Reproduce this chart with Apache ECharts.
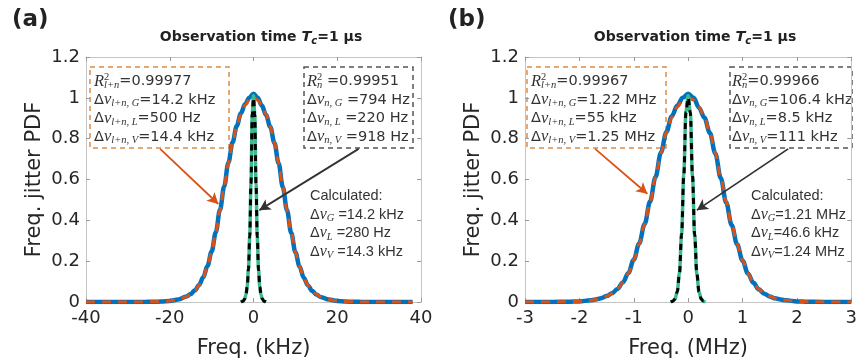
<!DOCTYPE html>
<html><head><meta charset="utf-8">
<script src="https://cdn.jsdelivr.net/npm/echarts@6/dist/echarts.min.js"></script>
<style>html,body{margin:0;padding:0;background:#fff}#c{width:860px;height:364px}</style>
</head><body><div id="c"></div>
<script>
// ---------- Panel (a): frequency in kHz ----------
const aXTicks = [-40, -20, 0, 20, 40];
const aBroadX = [-40,-36,-32,-28,-26,-24,-22,-20,-18,-16,-15,-14,-13,-12,-11,-10,-9,-8,-7,-6,-5,-4,-3,-2,-1,0,1,2,3,4,5,6,7,8,9,10,11,12,13,14,15,16,18,20,22,24,26,28,32,36,38];
const aBroadMeas = [0,0,0,0.0003,0.0006,0.001,0.002,0.005,0.012,0.027,0.039,0.057,0.083,0.121,0.176,0.247,0.342,0.452,0.566,0.682,0.782,0.862,0.925,0.97,1.0,1.02,1.0,0.962,0.916,0.858,0.779,0.679,0.563,0.449,0.339,0.244,0.174,0.119,0.081,0.055,0.037,0.025,0.012,0.005,0.002,0.001,0.0005,0.0002,0,0,0];
const aBroadFit  = [0,0,0,0.0002,0.0005,0.001,0.002,0.005,0.012,0.026,0.038,0.056,0.082,0.12,0.175,0.245,0.34,0.45,0.565,0.68,0.78,0.86,0.92,0.965,0.99,1.0,0.99,0.965,0.92,0.86,0.78,0.68,0.565,0.45,0.34,0.245,0.175,0.12,0.082,0.056,0.038,0.026,0.012,0.005,0.002,0.001,0.0005,0.0002,0,0,0];
const aNarrowX = [-3,-2.5,-2.1,-1.8,-1.5,-1.2,-0.9,-0.6,-0.3,0,0.3,0.6,0.9,1.2,1.5,1.8,2.1,2.5,3];
const aNarrowMeas = [0,0.004,0.016,0.036,0.077,0.162,0.322,0.585,0.925,1.01,0.918,0.578,0.318,0.158,0.074,0.034,0.015,0.004,0];
const aNarrowFit  = [0,0.004,0.015,0.035,0.075,0.16,0.32,0.58,0.92,1.0,0.92,0.58,0.32,0.16,0.075,0.035,0.015,0.004,0];

// ---------- Panel (b): frequency in MHz ----------
const bXTicks = [-3, -2, -1, 0, 1, 2, 3];
const bBroadX = [-3,-2.5,-2.2,-2,-1.8,-1.7,-1.6,-1.5,-1.4,-1.3,-1.2,-1.1,-1,-0.9,-0.8,-0.7,-0.6,-0.5,-0.4,-0.3,-0.2,-0.1,0,0.1,0.2,0.3,0.4,0.5,0.6,0.7,0.8,0.9,1,1.1,1.2,1.3,1.4,1.5,1.6,1.7,1.8,2,2.2,2.5,3];
const bBroadMeas = [0,0.0003,0.0012,0.003,0.008,0.012,0.018,0.029,0.043,0.064,0.096,0.142,0.207,0.287,0.382,0.492,0.612,0.732,0.833,0.91,0.962,1.0,1.02,1.0,0.952,0.902,0.828,0.727,0.607,0.487,0.377,0.283,0.203,0.139,0.094,0.062,0.041,0.027,0.018,0.012,0.008,0.003,0.0012,0.0003,0];
const bBroadFit  = [0,0.0003,0.0012,0.003,0.008,0.012,0.018,0.028,0.042,0.063,0.095,0.14,0.205,0.285,0.38,0.49,0.61,0.73,0.83,0.905,0.955,0.99,1.0,0.99,0.955,0.905,0.83,0.73,0.61,0.49,0.38,0.285,0.205,0.14,0.095,0.063,0.042,0.028,0.018,0.012,0.008,0.003,0.0012,0.0003,0];
const bNarrowX = [-0.32,-0.28,-0.24,-0.2,-0.16,-0.12,-0.08,-0.04,0,0.04,0.08,0.12,0.16,0.2,0.24,0.28,0.32];
const bNarrowMeas = [0,0.004,0.016,0.052,0.142,0.335,0.625,0.935,1.01,0.928,0.615,0.325,0.138,0.05,0.015,0.003,0];
const bNarrowFit  = [0,0.004,0.015,0.05,0.14,0.33,0.62,0.93,1.0,0.93,0.62,0.33,0.14,0.05,0.015,0.004,0];

const yTicks = [0, 0.2, 0.4, 0.6, 0.8, 1, 1.2];

// arrows (data coordinates: [from], [to])
const aArrowOrange = [[-22.3, 0.75], [-8.4, 0.48]];
const aArrowGrey   = [[25.1, 0.75], [1.4, 0.45]];
const bArrowOrange = [[-1.71, 0.75], [-0.75, 0.53]];
const bArrowGrey   = [[1.84, 0.75], [0.16, 0.45]];

const FONT = 'DejaVu Sans, Verdana, sans-serif';
const ARIAL = 'Liberation Sans, Arial, sans-serif';
const SERIF = 'Liberation Serif, DejaVu Serif, serif';
const TXT = '#262626';
const C_BLUE = '#0072BD', C_ORANGE = '#D95319', C_GREEN = '#3BBA8E', C_BLACK = '#000000';

const chart = echarts.init(document.getElementById('c'), null, {renderer: 'canvas'});

function pairs(xs, ys) { return xs.map((x, i) => [x, ys[i]]); }

function xAxes(grid, ticks, name) {
  const base = {
    gridIndex: grid, type: 'value',
    min: ticks[0], max: ticks[ticks.length - 1], interval: ticks[1] - ticks[0],
    axisLine: {onZero: false, lineStyle: {color: '#c4c4c4', width: 1}},
    axisTick: {inside: true, length: 4, lineStyle: {color: '#9a9a9a'}},
    splitLine: {show: false}
  };
  return [
    Object.assign({}, base, {
      position: 'bottom',
      axisLabel: {fontSize: 18, fontFamily: FONT, color: TXT, margin: 7},
      name: name, nameLocation: 'middle', nameGap: 36,
      nameTextStyle: {fontSize: 21, fontFamily: FONT, color: TXT}
    }),
    Object.assign({}, base, {position: 'top', axisLabel: {show: false}})
  ];
}
function yAxes(grid) {
  const base = {
    gridIndex: grid, type: 'value',
    min: yTicks[0], max: yTicks[yTicks.length - 1], interval: yTicks[1] - yTicks[0],
    axisLine: {show: true, onZero: false, lineStyle: {color: '#c4c4c4', width: 1}},
    axisTick: {show: true, inside: true, length: 4, lineStyle: {color: '#9a9a9a'}},
    splitLine: {show: false}
  };
  return [
    Object.assign({}, base, {
      position: 'left',
      axisLabel: {fontSize: 18, fontFamily: FONT, color: TXT, margin: 6},
      name: 'Freq. jitter PDF', nameLocation: 'middle', nameGap: 41, nameRotate: 90,
      nameTextStyle: {fontSize: 21, fontFamily: FONT, color: TXT}
    }),
    Object.assign({}, base, {position: 'right', axisLabel: {show: false}})
  ];
}

function arrowLine(arr, color) {
  return {
    silent: true, symbol: ['none', 'arrow'], symbolSize: [9, 11],
    label: {show: false},
    lineStyle: {color: color, width: 1.8, type: 'solid'},
    data: [[{coord: arr[0]}, {coord: arr[1]}]]
  };
}

function lineSeries(xi, yi, data, color, width, dash, z, markLine) {
  const s = {
    type: 'line', xAxisIndex: xi, yAxisIndex: yi, data: data,
    showSymbol: false, symbol: 'none', smooth: 0.35, smoothMonotone: 'x',
    lineStyle: {color: color, width: width, type: dash || 'solid'},
    z: z, silent: true
  };
  if (markLine) s.markLine = markLine;
  return s;
}

function makeRich(size, mathSize, subSize, family) {
  return {
    n: {font: size + 'px ' + family, fill: '#333', lineHeight: 18.5, verticalAlign: 'middle'},
    d: {font: size + 'px ' + family, fill: '#333', lineHeight: 18.5, verticalAlign: 'middle'},
    m: {font: 'italic ' + mathSize + 'px ' + SERIF, fill: '#333', lineHeight: 18.5, verticalAlign: 'middle'},
    s: {font: 'italic ' + subSize + 'px ' + SERIF, fill: '#333', lineHeight: 7, verticalAlign: 'bottom'},
    p: {font: subSize + 'px ' + SERIF, fill: '#333', lineHeight: 9, verticalAlign: 'top', width: 0}
  };
}
const richBox = makeRich(14.5, 16.5, 10.5, FONT);
const richCalc = makeRich(14.5, 16, 10.5, ARIAL);

function richText(x, y, lines, rich) {
  return {type: 'text', x: x, y: y, silent: true,
    style: {text: lines.join('\n'), rich: rich, align: 'left', verticalAlign: 'top', fill: '#333'}};
}
function box(x, y, w, h, color) {
  return {type: 'rect', silent: true, shape: {x: x, y: y, width: w, height: h},
    style: {fill: 'none', stroke: color, lineWidth: 1.5, lineDash: [5, 4]}};
}
const titleRich = {
  b: {font: 'bold 14px ' + FONT, fill: '#222', lineHeight: 18, verticalAlign: 'middle'},
  bi: {font: 'italic bold 14.5px ' + FONT, fill: '#222', lineHeight: 18, verticalAlign: 'middle'},
  bs: {font: 'italic bold 10px ' + FONT, fill: '#222', lineHeight: 7, verticalAlign: 'bottom'}
};
function title(cx) {
  return {type: 'text', x: cx, y: 37, silent: true,
    style: {text: '{b|Observation time }{bi|T}{bs|c}{b|=1 µs}', rich: titleRich, align: 'center', verticalAlign: 'middle'}};
}
function panelLabel(x, t) {
  return {type: 'text', x: x, y: 20, silent: true,
    style: {text: t, font: 'bold 23px ' + FONT, fill: '#222', align: 'left', verticalAlign: 'middle'}};
}

const option = {
  animation: false,
  backgroundColor: '#fff',
  grid: [
    {left: 86, top: 57, width: 335, height: 245},
    {left: 525, top: 57, width: 330, height: 245}
  ],
  xAxis: xAxes(0, aXTicks, 'Freq. (kHz)').concat(xAxes(1, bXTicks, 'Freq. (MHz)')),
  yAxis: yAxes(0).concat(yAxes(1)),
  series: [
    lineSeries(0, 0, pairs(aBroadX, aBroadMeas), C_BLUE, 4.5, null, 2),
    lineSeries(0, 0, pairs(aBroadX, aBroadFit), C_ORANGE, 3, [9, 7], 3, arrowLine(aArrowOrange, C_ORANGE)),
    lineSeries(0, 0, pairs(aNarrowX, aNarrowMeas), C_GREEN, 3.5, null, 4),
    lineSeries(0, 0, pairs(aNarrowX, aNarrowFit), C_BLACK, 3, [6, 5], 5, arrowLine(aArrowGrey, '#333')),
    lineSeries(2, 2, pairs(bBroadX, bBroadMeas), C_BLUE, 4.5, null, 2),
    lineSeries(2, 2, pairs(bBroadX, bBroadFit), C_ORANGE, 3, [9, 7], 3, arrowLine(bArrowOrange, C_ORANGE)),
    lineSeries(2, 2, pairs(bNarrowX, bNarrowMeas), C_GREEN, 3.5, null, 4),
    lineSeries(2, 2, pairs(bNarrowX, bNarrowFit), C_BLACK, 3, [6, 5], 5, arrowLine(bArrowGrey, '#333'))
  ],
  graphic: [
    panelLabel(12, '(a)'), panelLabel(448, '(b)'),
    title(261), title(695),
    box(90, 67, 139, 81, '#E08A45'),
    box(304, 67, 109, 81, '#555'),
    box(527, 67, 139, 81, '#E08A45'),
    box(730, 67, 122, 81, '#555'),
    richText(94, 72, [
      '{m|R}{p|2}{s|l+n}{n|=0.99977}',
      '{d|Δ}{m|ν}{s|l+n, G}{n|=14.2 kHz}',
      '{d|Δ}{m|ν}{s|l+n, L}{n|=500 Hz}',
      '{d|Δ}{m|ν}{s|l+n, V}{n|=14.4 kHz}'
    ], richBox),
    richText(307, 72, [
      '{m|R}{p|2}{s|n}{n| =0.99951}',
      '{d|Δ}{m|ν}{s|n, G}{n| =794 Hz}',
      '{d|Δ}{m|ν}{s|n, L}{n| =220 Hz}',
      '{d|Δ}{m|ν}{s|n, V}{n| =918 Hz}'
    ], richBox),
    richText(310, 187, [
      '{n|Calculated:}',
      '{d|Δ}{m|ν}{s|G}{n| =14.2 kHz}',
      '{d|Δ}{m|ν}{s|L}{n| =280 Hz}',
      '{d|Δ}{m|ν}{s|V}{n| =14.3 kHz}'
    ], richCalc),
    richText(531, 72, [
      '{m|R}{p|2}{s|l+n}{n|=0.99967}',
      '{d|Δ}{m|ν}{s|l+n, G}{n|=1.22 MHz}',
      '{d|Δ}{m|ν}{s|l+n, L}{n|=55 kHz}',
      '{d|Δ}{m|ν}{s|l+n, V}{n|=1.25 MHz}'
    ], richBox),
    richText(732, 72, [
      '{m|R}{p|2}{s|n}{n|=0.99966}',
      '{d|Δ}{m|ν}{s|n, G}{n|=106.4 kHz}',
      '{d|Δ}{m|ν}{s|n, L}{n|=8.5 kHz}',
      '{d|Δ}{m|ν}{s|n, V}{n|=111 kHz}'
    ], richBox),
    richText(751, 187, [
      '{n|Calculated:}',
      '{d|Δ}{m|ν}{s|G}{n|=1.21 MHz}',
      '{d|Δ}{m|ν}{s|L}{n|=46.6 kHz}',
      '{d|Δ}{m|ν}{s|V}{n|=1.24 MHz}'
    ], richCalc)
  ]
};
chart.setOption(option);
</script>
</body></html>
